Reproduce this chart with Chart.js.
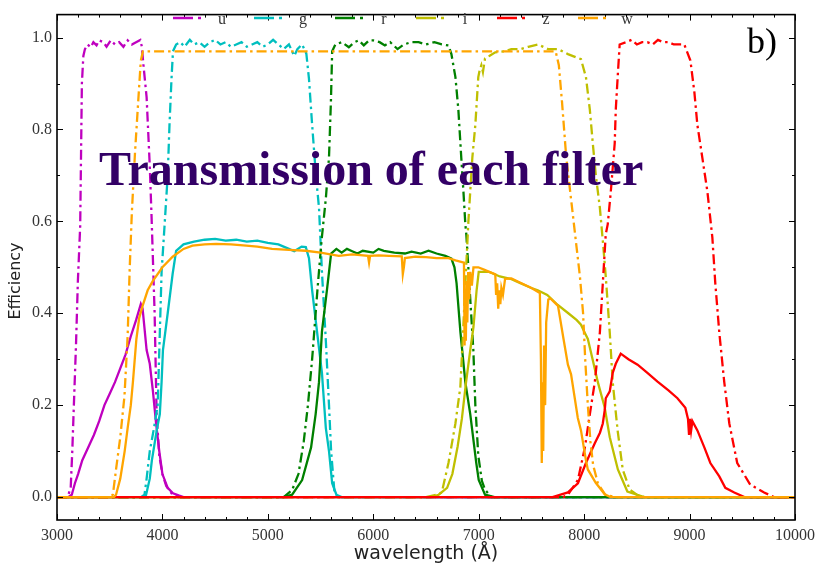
<!DOCTYPE html>
<html lang="en">
<head>
  <meta charset="UTF-8">
  <title>Transmission of each filter</title>
  <script src="https://cdn.jsdelivr.net/npm/chart.js"></script>
  <style>
    body { margin: 0; background: #fff; }
    canvas { display: block; }
  </style>
</head>
<body>
  <canvas id="chart" width="821" height="567"></canvas>

  <script>
    // [wavelength (A), efficiency]
    const uFilter = [[3000,0],[3100,0],[3130,0.02],[3145,0.1],[3160,0.2],[3180,0.33],[3198,0.47],[3220,0.59],[3236,0.9],[3250,0.96],[3265,0.975],[3290,0.985],[3320,0.979],[3345,0.99],[3375,0.983],[3400,0.994],[3440,0.99],[3470,0.98],[3510,0.994],[3550,0.985],[3590,0.99],[3630,0.98],[3670,0.994],[3710,0.985],[3750,0.99],[3790,0.995],[3805,0.98],[3820,0.94],[3850,0.87],[3880,0.72],[3897,0.61],[3926,0.4],[3945,0.18],[3970,0.09],[4000,0.05],[4036,0.024],[4096,0.005],[4150,0],[10000,0]];
    const uEff = [[3000,0],[3110,0],[3140,0.005],[3170,0.03],[3200,0.05],[3240,0.08],[3300,0.11],[3350,0.135],[3400,0.165],[3450,0.2],[3500,0.225],[3550,0.25],[3600,0.28],[3650,0.31],[3700,0.35],[3750,0.385],[3795,0.42],[3812,0.41],[3850,0.32],[3880,0.29],[3910,0.23],[3940,0.16],[3970,0.1],[4000,0.05],[4050,0.02],[4100,0.008],[4160,0.003],[4200,0],[10000,0]];

    const gFilter = [[3000,0],[3800,0],[3830,0.005],[3850,0.04],[3880,0.1],[3920,0.15],[3955,0.2],[3973,0.34],[3992,0.49],[4020,0.59],[4050,0.7],[4067,0.81],[4086,0.91],[4100,0.97],[4130,0.985],[4170,0.99],[4210,0.98],[4260,0.995],[4300,0.985],[4350,0.99],[4400,0.98],[4450,0.99],[4500,0.995],[4550,0.985],[4600,0.99],[4650,0.98],[4700,0.985],[4750,0.99],[4800,0.98],[4850,0.985],[4900,0.99],[4950,0.98],[5000,0.985],[5050,0.995],[5100,0.985],[5150,0.975],[5200,0.985],[5250,0.96],[5280,0.975],[5324,0.985],[5345,0.975],[5365,0.965],[5390,0.91],[5420,0.81],[5456,0.7],[5485,0.63],[5513,0.49],[5550,0.34],[5580,0.2],[5600,0.1],[5630,0.015],[5660,0],[10000,0]];
    const gEff = [[3000,0],[3840,0],[3880,0.04],[3900,0.08],[3945,0.144],[3975,0.18],[3992,0.25],[4005,0.32],[4050,0.4],[4097,0.486],[4130,0.536],[4200,0.55],[4300,0.556],[4400,0.56],[4500,0.562],[4600,0.558],[4700,0.56],[4800,0.556],[4900,0.558],[5000,0.553],[5100,0.55],[5200,0.54],[5250,0.535],[5320,0.545],[5360,0.544],[5390,0.52],[5420,0.45],[5456,0.38],[5513,0.27],[5550,0.15],[5580,0.1],[5610,0.03],[5650,0.005],[5700,0],[10000,0]];

    const rFilter = [[3000,0],[5150,0],[5230,0.015],[5290,0.05],[5340,0.12],[5380,0.2],[5420,0.3],[5470,0.45],[5510,0.56],[5550,0.65],[5580,0.74],[5598,0.86],[5610,0.97],[5640,0.985],[5703,0.99],[5768,0.979],[5820,0.99],[5862,0.994],[5910,0.983],[5960,0.994],[6000,0.994],[6060,0.99],[6110,0.983],[6160,0.99],[6230,0.975],[6290,0.985],[6360,0.99],[6430,0.99],[6500,0.985],[6580,0.99],[6650,0.985],[6713,0.983],[6741,0.964],[6779,0.914],[6807,0.843],[6835,0.737],[6855,0.665],[6873,0.594],[6883,0.57],[6920,0.43],[6949,0.32],[6968,0.2],[6996,0.09],[7030,0.035],[7060,0.016],[7120,0],[10000,0]];
    const rEff = [[3000,0],[5150,0],[5230,0.005],[5325,0.037],[5410,0.108],[5453,0.18],[5485,0.25],[5513,0.36],[5560,0.45],[5600,0.53],[5650,0.54],[5700,0.532],[5750,0.54],[5800,0.535],[5850,0.53],[5900,0.536],[6000,0.532],[6050,0.54],[6100,0.536],[6200,0.532],[6300,0.53],[6363,0.534],[6450,0.53],[6524,0.536],[6600,0.53],[6684,0.525],[6741,0.519],[6770,0.5],[6790,0.465],[6826,0.36],[6873,0.25],[6920,0.18],[6977,0.074],[7000,0.037],[7060,0.005],[7150,0],[10000,0]];

    const iFilter = [[3000,0],[6500,0],[6600,0.005],[6650,0.01],[6713,0.074],[6779,0.16],[6826,0.24],[6860,0.4],[6902,0.6],[6940,0.74],[6968,0.81],[6996,0.914],[7010,0.93],[7025,0.94],[7040,0.925],[7060,0.955],[7100,0.96],[7157,0.968],[7250,0.97],[7310,0.975],[7400,0.975],[7470,0.98],[7563,0.985],[7657,0.975],[7752,0.975],[7846,0.964],[7970,0.953],[8017,0.914],[8054,0.843],[8082,0.77],[8111,0.7],[8149,0.63],[8180,0.55],[8205,0.48],[8243,0.358],[8271,0.25],[8318,0.144],[8366,0.06],[8432,0.016],[8500,0.005],[8573,0],[10000,0]];
    const iEff = [[3000,0],[6550,0],[6620,0.005],[6700,0.02],[6750,0.05],[6800,0.11],[6840,0.17],[6880,0.25],[6920,0.32],[6950,0.37],[6980,0.45],[7000,0.49],[7060,0.49],[7100,0.49],[7200,0.48],[7300,0.475],[7400,0.465],[7500,0.455],[7560,0.45],[7650,0.44],[7750,0.418],[7850,0.4],[7930,0.385],[7970,0.375],[8000,0.36],[8035,0.344],[8080,0.3],[8130,0.25],[8195,0.195],[8243,0.13],[8320,0.06],[8410,0.012],[8570,0],[10000,0]];

    const zFilter = [[3000,0],[7800,0],[7846,0.005],[7941,0.037],[8007,0.108],[8054,0.18],[8101,0.25],[8149,0.358],[8177,0.465],[8205,0.572],[8224,0.594],[8253,0.665],[8290,0.77],[8300,0.843],[8318,0.914],[8337,0.985],[8400,0.99],[8450,0.995],[8500,0.985],[8550,0.99],[8600,0.99],[8650,0.985],[8700,0.995],[8750,0.99],[8800,0.99],[8850,0.985],[8950,0.985],[9008,0.95],[9046,0.88],[9074,0.81],[9122,0.737],[9169,0.665],[9216,0.565],[9244,0.465],[9282,0.358],[9329,0.25],[9377,0.16],[9452,0.074],[9575,0.027],[9707,0.01],[9800,0],[10000,0]];
    const zEff = [[3000,0],[7700,0],[7846,0.01],[7941,0.03],[8017,0.074],[8101,0.117],[8150,0.14],[8177,0.16],[8196,0.19],[8205,0.215],[8243,0.23],[8271,0.27],[8300,0.29],[8347,0.312],[8420,0.3],[8507,0.288],[8600,0.27],[8696,0.251],[8800,0.232],[8885,0.215],[8960,0.194],[8985,0.17],[8995,0.135],[9005,0.17],[9015,0.145],[9027,0.165],[9074,0.145],[9140,0.108],[9197,0.074],[9282,0.045],[9339,0.02],[9424,0.01],[9520,0],[10000,0]];

    const wFilter = [[3000,0],[3500,0],[3530,0.005],[3560,0.06],[3600,0.13],[3640,0.22],[3670,0.35],[3690,0.5],[3710,0.62],[3740,0.75],[3770,0.86],[3795,0.95],[3815,0.97],[7730,0.97],[7760,0.94],[7790,0.86],[7830,0.74],[7880,0.64],[7920,0.56],[7960,0.48],[7990,0.4],[8010,0.3],[8035,0.2],[8060,0.12],[8085,0.07],[8130,0.03],[8200,0.005],[8300,0],[10000,0]];
    const wEff = [[3000,0],[3540,0],[3560,0.005],[3600,0.04],[3642,0.1],[3670,0.15],[3700,0.2],[3720,0.25],[3753,0.344],[3780,0.39],[3812,0.416],[3860,0.45],[3908,0.47],[4000,0.5],[4097,0.523],[4200,0.54],[4285,0.547],[4400,0.55],[4510,0.551],[4650,0.55],[4795,0.547],[4900,0.545],[5040,0.54],[5200,0.538],[5360,0.536],[5500,0.532],[5673,0.525],[5800,0.528],[5950,0.525],[5960,0.51],[5970,0.525],[6051,0.526],[6150,0.525],[6270,0.524],[6280,0.485],[6290,0.5],[6300,0.52],[6400,0.523],[6500,0.522],[6600,0.52],[6713,0.52],[6780,0.515],[6860,0.51],[6866,0.33],[6872,0.45],[6878,0.34],[6885,0.47],[6892,0.38],[6900,0.49],[6910,0.43],[6920,0.49],[6935,0.46],[6950,0.5],[6996,0.5],[7050,0.495],[7100,0.49],[7157,0.485],[7165,0.44],[7175,0.465],[7185,0.41],[7195,0.45],[7205,0.42],[7215,0.455],[7230,0.44],[7250,0.475],[7310,0.476],[7400,0.466],[7500,0.455],[7580,0.444],[7590,0.3],[7598,0.074],[7606,0.25],[7612,0.1],[7620,0.33],[7630,0.2],[7640,0.38],[7660,0.43],[7680,0.432],[7752,0.416],[7800,0.35],[7846,0.288],[7876,0.267],[7940,0.172],[7970,0.145],[8017,0.08],[8035,0.06],[8110,0.031],[8195,0.006],[8250,0],[10000,0]];

    const bands = ['u', 'g', 'r', 'i', 'z', 'w'];
    const bandColors = ['#bf00bf', '#00bfbf', '#008000', '#bfbf00', '#ff0000', '#ffa500'];
    const filterCurves = [uFilter, gFilter, rFilter, iFilter, zFilter, wFilter];
    const effCurves = [uEff, gEff, rEff, iEff, zEff, wEff];

    const xMajor = [3000, 4000, 5000, 6000, 7000, 8000, 9000, 10000];
    const yMajor = [0, 0.2, 0.4, 0.6, 0.8, 1.0];
    const xMinorStep = 200;
    const yMinorStep = 0.1;

    const dashDot = [10, 4, 2.5, 4];
    const toXY = arr => arr.map(p => ({ x: p[0], y: p[1] }));

    // matplotlib order: each filter curve then its efficiency curve, w last (on top)
    const datasets = [];
    let order = 100;
    bands.forEach((b, i) => {
      datasets.push({
        label: b, data: toXY(filterCurves[i]), borderColor: bandColors[i],
        borderWidth: 2.3, borderDash: dashDot, pointRadius: 0, order: order--
      });
      datasets.push({
        label: b + ' eff', data: toXY(effCurves[i]), borderColor: bandColors[i],
        borderWidth: 2.3, pointRadius: 0, order: order--
      });
    });

    const frameTicks = {
      id: 'frameTicks',
      afterDatasetsDraw(chart) {
        const { ctx, chartArea: a, scales: { x, y } } = chart;
        ctx.save();
        ctx.strokeStyle = '#000';
        ctx.lineWidth = 1;
        ctx.beginPath();
        for (let v = xMajor[0]; v <= xMajor[xMajor.length - 1] + 1; v += xMinorStep) {
          const px = Math.round(x.getPixelForValue(v)) + 0.5;
          const len = xMajor.includes(v) ? 6 : 3;
          ctx.moveTo(px, a.bottom); ctx.lineTo(px, a.bottom - len);
          ctx.moveTo(px, a.top); ctx.lineTo(px, a.top + len);
        }
        for (let k = 0; k <= 10; k++) {
          const v = +(k * yMinorStep).toFixed(1);
          const py = Math.round(y.getPixelForValue(v)) + 0.5;
          const len = yMajor.includes(v) ? 6 : 3;
          ctx.moveTo(a.left, py); ctx.lineTo(a.left + len, py);
          ctx.moveTo(a.right, py); ctx.lineTo(a.right - len, py);
        }
        ctx.stroke();
        ctx.lineWidth = 1.6;
        ctx.strokeRect(a.left, a.top, a.right - a.left, a.bottom - a.top);

        // legend inside the top of the axes
        ctx.font = '16px "Liberation Serif"';
        ctx.textBaseline = 'alphabetic';
        ctx.textAlign = 'center';
        bands.forEach((b, i) => {
          const x0 = 173 + i * 81;
          const yy = 18;
          ctx.strokeStyle = bandColors[i];
          ctx.lineWidth = 2.3;
          ctx.beginPath();
          ctx.moveTo(x0, yy); ctx.lineTo(x0 + 20, yy);
          ctx.moveTo(x0 + 25, yy); ctx.lineTo(x0 + 28, yy);
          ctx.stroke();
          ctx.fillStyle = '#333';
          ctx.fillText(b, x0 + 49, 24);
        });

        // y axis label
        ctx.save();
        ctx.translate(16, 281);
        ctx.rotate(-Math.PI / 2);
        ctx.textAlign = 'center';
        ctx.textBaseline = 'middle';
        ctx.fillStyle = '#222';
        ctx.font = '16px "DejaVu Sans"';
        ctx.fillText('Efficiency', 0, 0);
        ctx.restore();

        // panel annotations
        ctx.textAlign = 'left';
        ctx.textBaseline = 'alphabetic';
        ctx.fillStyle = '#000';
        ctx.font = '36px "Liberation Serif"';
        ctx.fillText('b)', 747, 53);
        ctx.fillStyle = '#330066';
        ctx.font = 'bold 48px "Liberation Serif"';
        ctx.fillText('Transmission of each filter', 99, 185);
        ctx.restore();
      }
    };

    new Chart(document.getElementById('chart'), {
      type: 'line',
      data: { datasets },
      options: {
        responsive: false,
        animation: false,
        layout: { padding: { left: 0, top: 7, right: 23, bottom: 0 } },
        plugins: { legend: { display: false }, tooltip: { enabled: false } },
        elements: { line: { tension: 0, borderCapStyle: 'butt' } },
        scales: {
          x: {
            type: 'linear', min: 3000, max: 10000,
            grid: { display: false, drawTicks: false },
            border: { display: false },
            ticks: {
              stepSize: 1000, autoSkip: false, maxRotation: 0, padding: 6,
              color: '#333', font: { family: 'Liberation Serif', size: 16 },
              callback: v => String(v)
            },
            title: {
              display: true, text: 'wavelength (Å)', color: '#222',
              font: { family: 'DejaVu Sans', size: 19 }, padding: { top: 0, bottom: 2 }
            },
            afterFit: s => { s.height = 47; }
          },
          y: {
            min: -0.05, max: 1.05,
            grid: { display: false, drawTicks: false },
            border: { display: false },
            ticks: {
              stepSize: 0.2, includeBounds: false, padding: 5,
              color: '#333', font: { family: 'Liberation Serif', size: 16 },
              callback: v => v.toFixed(1)
            },
            afterFit: s => { s.width = 57; }
          }
        }
      },
      plugins: [frameTicks]
    });
  </script>
</body>
</html>
